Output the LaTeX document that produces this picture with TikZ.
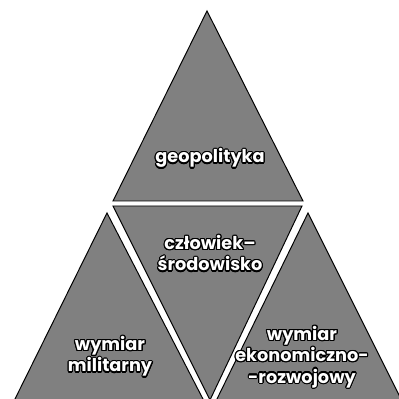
\documentclass[tikz,border=0pt]{standalone}
\usepackage{fontspec}
\usepackage{contour}
\newfontfamily\pyrfont{Poppins}
\contourlength{0.8pt}
\newcommand{\wl}[1]{\contour{black}{#1}}
\tikzset{
  part/.style={fill=black!50,draw=black,line width=0.7pt,line join=miter},
  lbl/.style={text=white,align=center,inner sep=0pt,
    font=\pyrfont\bfseries\fontsize{12.6}{15.2}\selectfont}
}

\begin{document}
\begin{tikzpicture}[x=0.25mm,y=0.25mm]
  % Picture frame: 399 x 399 units.
  \useasboundingbox (0,0) rectangle (399,399);
  \clip (0,0) rectangle (399,399);

  % Corners of the four parts.
  \coordinate (apex) at (207,388);
  \coordinate (tl) at (113,198);
  \coordinate (tr) at (303,198);
  \coordinate (ml) at (113,193);
  \coordinate (mr) at (302,193);
  \coordinate (mb) at (210,-1);
  \coordinate (la) at (107,186);
  \coordinate (ll) at (14,-2);
  \coordinate (lr) at (204,-2);
  \coordinate (ra) at (308,186);
  \coordinate (rl) at (216,-2);
  \coordinate (rr) at (402,-2);

  % The four triangles.
  \draw[part] (apex) -- (tl) -- (tr) -- cycle;
  \draw[part] (ml) -- (mr) -- (mb) -- cycle;
  \draw[part] (la) -- (ll) -- (lr) -- cycle;
  \draw[part] (ra) -- (rl) -- (rr) -- cycle;

  % Labels (base = last line).
  \node[lbl,anchor=base] (geo) at (210,236) {\wl{geopolityka}};
  \node[lbl,anchor=base] (czlow) at (210,128) {\wl{człowiek–}\\\wl{środowisko}};
  \node[lbl,anchor=base] (milit) at (110,27) {\wl{wymiar}\\\wl{militarny}};
  \node[lbl,anchor=base] (ekon) at (302,16) {\wl{wymiar}\\\wl{ekonomiczno-}\\\wl{-rozwojowy}};
\end{tikzpicture}
\end{document}
